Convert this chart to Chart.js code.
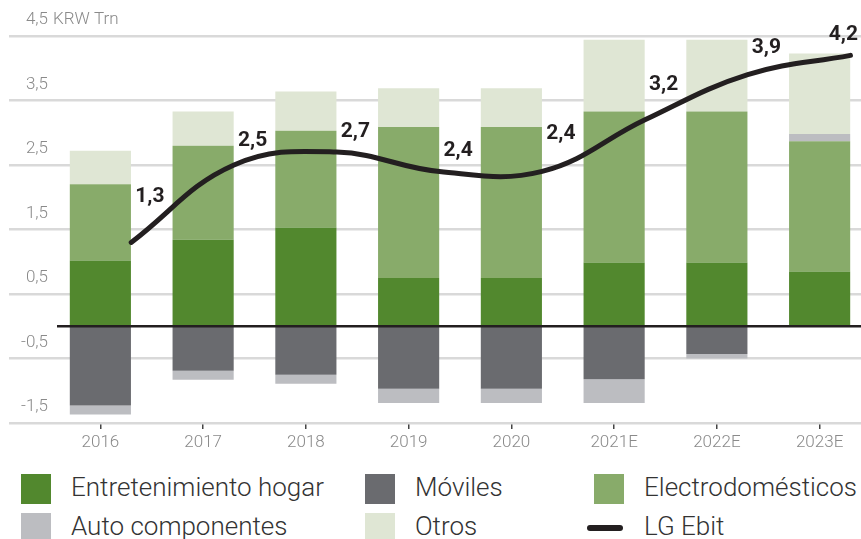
<!DOCTYPE html>
<html>
<head>
<meta charset="utf-8">
<script src="https://cdn.jsdelivr.net/npm/chart.js@4/dist/chart.umd.min.js"></script>
<style>
  html, body { margin: 0; padding: 0; overflow: hidden; background: #fff; }
  #wrap { position: relative; width: 861px; height: 539px; overflow: hidden; }
  #chart { position: absolute; left: 0; top: 0; }
  .item { position: absolute; height: 30px; line-height: 30px; white-space: nowrap;
          font-family: Roboto, sans-serif; font-weight: 300; font-size: 26px; color: #333; }
  .box { position: absolute; left: 0; top: 0; width: 30px; height: 30px; }
  .line { position: absolute; left: -7px; top: 12px; width: 36px; height: 6px; border-radius: 3px; }
  .txt { position: absolute; left: 50px; top: -2px; }
</style>
</head>
<body>
<div id="wrap">
  <canvas id="chart" width="871" height="460"></canvas>
  <div id="legend"></div>
</div>
<script>
// categories and values (KRW Trn)
const years = ['2016', '2017', '2018', '2019', '2020', '2021E', '2022E', '2023E'];
const entretenimiento = [1.02, 1.34, 1.53, 0.75, 0.75, 0.99, 0.99, 0.85];
const moviles = [-1.23, -0.69, -0.75, -0.97, -0.97, -0.82, -0.43, 0];
const electro = [1.18, 1.46, 1.50, 2.34, 2.34, 2.34, 2.34, 2.02];
const autoComp = [-0.14, -0.14, -0.14, -0.22, -0.22, -0.37, -0.07, 0.11];
const otros = [0.52, 0.53, 0.61, 0.60, 0.60, 1.11, 1.11, 1.25];
const ebit = [1.3, 2.5, 2.7, 2.4, 2.4, 3.2, 3.9, 4.2];
const yTicks = [-1.5, -0.5, 0.5, 1.5, 2.5, 3.5, 4.5];

const axisFont = { family: 'Roboto', size: 17, weight: '300' };
const grey = '#8a8a8a';
const dark = '#231f20';
const fmt = v => v.toFixed(1).replace('.', ',');

const bar = (label, data, color) => ({
  label, data, backgroundColor: color, borderWidth: 0,
  barPercentage: 0.595, categoryPercentage: 1, grouped: false
});

const datasets = [
  {
    type: 'line', label: 'LG Ebit',
    data: ebit.map((v, i) => ({ x: i + 0.3, y: v })),
    xAxisID: 'xl', stack: 'ebit',
    borderColor: dark, borderWidth: 5, borderCapStyle: 'round',
    tension: 0.4, pointRadius: 0, fill: false
  },
  bar('Entretenimiento hogar', entretenimiento, '#52882e'),
  bar('Móviles', moviles, '#6a6b6f'),
  bar('Electrodomésticos', electro, '#88ab6a'),
  bar('Auto componentes', autoComp, '#bcbdc1'),
  bar('Otros', otros, '#dfe6d4')
];

const extras = {
  id: 'extras',
  afterDatasetsDraw(chart) {
    const { ctx, chartArea, scales: { y } } = chart;
    const y0 = y.getPixelForValue(0);
    ctx.save();
    ctx.strokeStyle = dark;
    ctx.lineWidth = 2.5;
    ctx.beginPath();
    ctx.moveTo(chartArea.left + 8, y0);
    ctx.lineTo(chartArea.right, y0);
    ctx.stroke();

    // value labels for the ebit line
    const pts = chart.getDatasetMeta(0).data;
    ctx.font = 'bold 21px Roboto, sans-serif';
    ctx.fillStyle = dark;
    ctx.textBaseline = 'bottom';
    pts.forEach((p, i) => {
      const txt = fmt(ebit[i]);
      const w = ctx.measureText(txt).width;
      let x = p.x + 4;
      if (x + w > 858) x = 858 - w;
      let yy = p.y;
      if (i < pts.length - 1) {
        const q = pts[i + 1];
        const t = (x + w - p.x) / (q.x - p.x);
        yy = Math.min(p.y, p.y + (q.y - p.y) * t);
      }
      ctx.fillText(txt, x, yy - 10);
    });

    // unit next to top tick
    ctx.font = '300 17px Roboto, sans-serif';
    ctx.fillStyle = grey;
    ctx.textBaseline = 'middle';
    ctx.fillText('KRW Trn', chartArea.left + 4, y.getPixelForValue(4.5) - 16);
    ctx.restore();
  }
};

new Chart(document.getElementById('chart'), {
  type: 'bar',
  data: { labels: years, datasets },
  options: {
    responsive: false,
    animation: false,
    layout: { padding: { left: 9, top: 36, bottom: 7, right: 0 } },
    plugins: { legend: { display: false }, tooltip: { enabled: false } },
    scales: {
      x: {
        stacked: true,
        offset: true,
        grid: { drawOnChartArea: false, drawTicks: true, tickLength: 6, offset: false, color: '#444', lineWidth: 1.5 },
        border: { display: false },
        ticks: { color: grey, font: axisFont, padding: 4, maxRotation: 0 },
        afterFit: s => { s.height = 30; }
      },
      xl: { type: 'linear', display: false, offset: false, min: -0.5, max: 7.5 },
      y: {
        stacked: true,
        min: -1.5, max: 4.5,
        afterBuildTicks: s => { s.ticks = yTicks.map(v => ({ value: v })); },
        afterFit: s => { s.width = 40; },
        grid: { color: '#d9d9d9', lineWidth: 2.5, tickLength: 40 },
        border: { display: false },
        ticks: { padding: -39, labelOffset: -16, color: grey, font: axisFont, callback: v => fmt(v) }
      }
    }
  },
  plugins: [extras]
});

// legend
const legendItems = [
  { name: 'Entretenimiento hogar', color: '#52882e', x: 21, y: 474 },
  { name: 'Móviles', color: '#6a6b6f', x: 365, y: 474 },
  { name: 'Electrodomésticos', color: '#88ab6a', x: 594, y: 474 },
  { name: 'Auto componentes', color: '#bcbdc1', x: 21, y: 513 },
  { name: 'Otros', color: '#dfe6d4', x: 365, y: 513 },
  { name: 'LG Ebit', color: dark, x: 594, y: 513, line: true }
];
const legend = document.getElementById('legend');
legendItems.forEach(it => {
  const d = document.createElement('div');
  d.className = 'item';
  d.style.left = it.x + 'px';
  d.style.top = it.y + 'px';
  d.innerHTML = `<div class="${it.line ? 'line' : 'box'}" style="background:${it.color}"></div><span class="txt">${it.name}</span>`;
  legend.appendChild(d);
});
</script>
</body>
</html>
